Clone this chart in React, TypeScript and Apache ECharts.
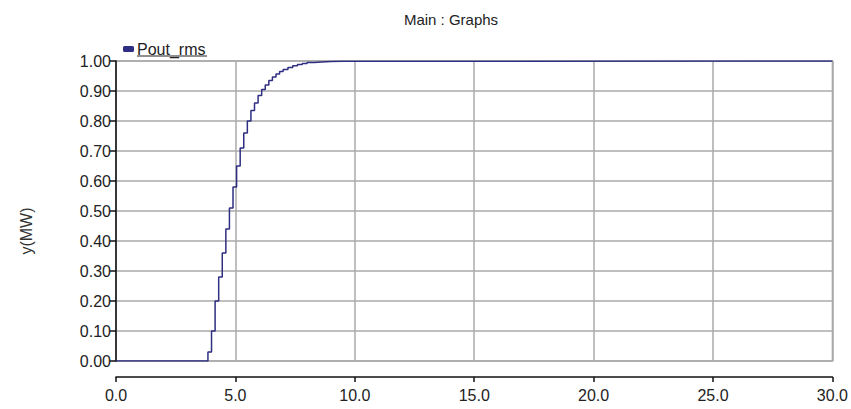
import React, { useEffect, useRef } from "react";
import * as echarts from "echarts";

const times = [0, 3.7, 3.85, 4.0, 4.15, 4.3, 4.45, 4.6, 4.75, 4.9, 5.05, 5.2, 5.35, 5.5, 5.65, 5.8, 5.95, 6.1, 6.25, 6.4, 6.55, 6.7, 6.85, 7.0, 7.2, 7.4, 7.6, 7.8, 8.0, 8.3, 8.6, 9.0, 9.5, 30];
const poutRms = [0, 0, 0.03, 0.1, 0.2, 0.28, 0.36, 0.44, 0.51, 0.58, 0.65, 0.71, 0.76, 0.8, 0.835, 0.86, 0.885, 0.905, 0.92, 0.935, 0.947, 0.957, 0.965, 0.972, 0.978, 0.984, 0.988, 0.992, 0.995, 0.997, 0.998, 0.999, 1.0, 1.0];
const seriesName = "Pout_rms";
const titleText = "Main : Graphs";
const yAxisTitle = "y(MW)";

const FONT = "'Liberation Sans', Arial, sans-serif";

export default function App() {
  const ref = useRef<HTMLDivElement>(null);
  useEffect(() => {
    if (!ref.current) return;
    const chart = echarts.init(ref.current, null, { renderer: "svg" });
    chart.setOption({
      animation: false,
      backgroundColor: "#ffffff",
      textStyle: { fontFamily: FONT },
      title: {
        text: titleText,
        left: 446,
        top: 7,
        textAlign: "center",
        textStyle: { fontSize: 15, fontWeight: "normal", color: "#222", fontFamily: FONT },
      },
      legend: {
        left: 118,
        top: 36,
        icon: "roundRect",
        itemWidth: 11,
        itemHeight: 6,
        itemGap: 6,
        textStyle: { fontSize: 16, color: "#222", fontFamily: FONT, padding: [0, 0, 0, -2] },
        data: [seriesName],
      },
      graphic: [
        {
          type: "line",
          shape: { x1: 137, y1: 56, x2: 207, y2: 56 },
          style: { stroke: "#222", lineWidth: 1.2 },
        },
        {
          type: "text",
          x: 26,
          y: 231,
          rotation: Math.PI / 2,
          style: {
            text: yAxisTitle,
            fontSize: 16,
            fill: "#333",
            fontFamily: FONT,
            align: "center",
            verticalAlign: "middle",
          },
        },
      ],
      grid: {
        left: 116,
        right: 17,
        top: 61,
        bottom: 48,
        show: true,
        borderColor: "#aaaaaa",
        borderWidth: 1.5,
        containLabel: false,
      },
      xAxis: {
        type: "value",
        min: 0,
        max: 30,
        interval: 5,
        offset: 16,
        axisLine: { show: true, onZero: false, lineStyle: { color: "#111", width: 1.5 } },
        axisTick: { show: true, length: 5, lineStyle: { color: "#111", width: 1.5 } },
        axisLabel: {
          fontSize: 16,
          color: "#222",
          margin: 10,
          fontFamily: FONT,
          formatter: (v: number) => v.toFixed(1),
        },
        splitLine: { show: true, lineStyle: { color: "#aaaaaa", width: 1.5 } },
      },
      yAxis: {
        type: "value",
        min: 0,
        max: 1,
        interval: 0.1,
        axisLine: { show: true, onZero: false, lineStyle: { color: "#111", width: 1.5 } },
        axisTick: { show: true, length: 6, lineStyle: { color: "#111", width: 1.5 } },
        axisLabel: {
          fontSize: 16,
          color: "#222",
          margin: 5,
          fontFamily: FONT,
          formatter: (v: number) => v.toFixed(2),
        },
        splitLine: { show: true, lineStyle: { color: "#aaaaaa", width: 1.5 } },
      },
      series: [
        {
          name: seriesName,
          type: "line",
          step: "end",
          showSymbol: false,
          symbol: "none",
          data: times.map((t, i) => [t, poutRms[i]]),
          itemStyle: { color: "#2e2e82" },
          lineStyle: { color: "#2e2e82", width: 1.5 },
        },
      ],
    });
    return () => chart.dispose();
  }, []);
  return (
    <div
      ref={ref}
      style={{ position: "fixed", left: 0, top: 0, width: 851, height: 409 }}
    />
  );
}
